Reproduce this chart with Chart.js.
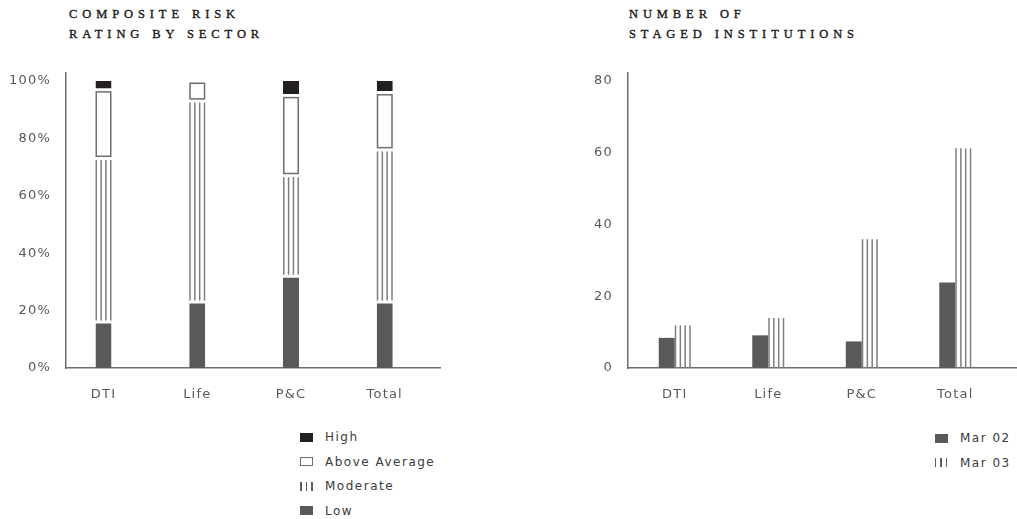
<!DOCTYPE html>
<html>
<head>
<meta charset="utf-8">
<script src="https://cdn.jsdelivr.net/npm/chart.js@4"></script>
<style>
  html, body { margin: 0; padding: 0; background: #fff; }
  body { width: 1017px; height: 519px; position: relative; overflow: hidden; font-family: "DejaVu Sans", sans-serif; }
  .title { position: absolute; font-family: "Liberation Serif", serif; font-size: 12.5px; line-height: 20px; letter-spacing: 4.9px; color: #1a1718; -webkit-text-stroke: 0.35px #1a1718; white-space: nowrap; }
  canvas { position: absolute; top: 0; }
  .legend { position: absolute; font-size: 12px; letter-spacing: 1.5px; color: #3a3a3a; white-space: nowrap; }
  .legend .row { display: flex; align-items: center; height: 24.5px; }
  .mk { width: 13px; height: 9px; margin-right: 12px; box-sizing: border-box; flex: none; }
  .mk.solid { background: var(--c); }
  .mk.outline { border: 1.5px solid #6d6e71; background: #fff; }
  .mk.stripes { background: repeating-linear-gradient(90deg, #5e5e5e 0 1.5px, transparent 1.5px 5.5px); }
</style>
</head>
<body>
<div class="title" style="left:69px; top:4px;">COMPOSITE RISK<br>RATING BY SECTOR</div>
<div class="title" style="left:629px; top:4px;">NUMBER OF<br>STAGED INSTITUTIONS</div>

<canvas id="riskChart" width="441" height="418" style="left:0;"></canvas>
<canvas id="stagedChart" width="457" height="418" style="left:560px;"></canvas>

<div class="legend" id="riskLegend" style="left:300px; top:425px;"></div>
<div class="legend" id="stagedLegend" style="left:935px; top:426px;"></div>

<script>
// ---- data ----
const sectors = ['DTI', 'Life', 'P&C', 'Total'];

// composite risk rating, share of institutions (%)
const riskLow = [16, 23, 32, 23];
const riskModerate = [57, 70, 35, 53];
const riskAboveAverage = [24, 7, 28, 20];
const riskHigh = [3, 0, 5, 4];
const riskTicks = [0, 20, 40, 60, 80, 100];

// number of staged institutions
const stagedMar02 = [8.4, 9.1, 7.4, 23.8];
const stagedMar03 = [11.9, 13.9, 35.9, 61.2];
const stagedTicks = [0, 20, 40, 60, 80];

// ---- styling ----
const INK = '#231f20';
const DARK = '#58595b';
const RULE = '#6d6e71';
const STRIPE = '#7d7e81';
const LABEL = '#58595b';
const tickFont = { family: '"DejaVu Sans", sans-serif', size: 13 };

const points = vals => vals.map((v, i) => ({ x: i, y: v }));

// outlined boxes and vertical rulings, painted inside each bar's own rectangle
const barFills = {
  id: 'barFills',
  afterDatasetsDraw(chart) {
    const ctx = chart.ctx;
    chart.data.datasets.forEach((ds, di) => {
      if (!ds.fillKind || !chart.isDatasetVisible(di)) return;
      const meta = chart.getDatasetMeta(di);
      const insetTop = ds.insetTop || 0;
      const insetBottom = ds.insetBottom || 0;
      meta.data.forEach(bar => {
        const { x, y, base, width } = bar.getProps(['x', 'y', 'base', 'width'], true);
        const left = x - width / 2;
        const top = Math.min(y, base) + insetTop;
        const bottom = Math.max(y, base) - insetBottom;
        if (bottom - top < 1) return;
        ctx.save();
        if (ds.fillKind === 'outline') {
          ctx.fillStyle = '#fff';
          ctx.fillRect(left, top, width, bottom - top);
          ctx.lineWidth = 1.5;
          ctx.strokeStyle = RULE;
          ctx.strokeRect(left + 0.75, top + 0.75, width - 1.5, bottom - top - 1.5);
        } else {
          ctx.lineWidth = 1.5;
          ctx.strokeStyle = STRIPE;
          for (let k = 0; k < 4; k++) {
            const lx = left + 0.75 + k * (width - 1.5) / 3;
            ctx.beginPath();
            ctx.moveTo(lx, top);
            ctx.lineTo(lx, bottom);
            ctx.stroke();
          }
        }
        ctx.restore();
      });
    });
  }
};

// wider tracking for the axis labels
const tracking = {
  id: 'tracking',
  beforeLayout(chart) { chart.ctx.letterSpacing = '1.2px'; },
  beforeDraw(chart) { chart.ctx.letterSpacing = '1.2px'; }
};

function categoryAxis(min, max, stacked) {
  return {
    type: 'linear', min, max, stacked, offset: false,
    grid: { display: false, drawTicks: false },
    border: { color: RULE, width: 1.5 },
    ticks: {
      padding: 19, color: LABEL, font: tickFont, maxRotation: 0, autoSkip: false,
      callback: v => sectors[v] ?? ''
    },
    afterBuildTicks: s => { s.ticks = sectors.map((_, i) => ({ value: i })); },
    afterFit: s => { s.height = 50; }
  };
}

function valueAxis(ticks, max, fmt, width, stacked) {
  return {
    min: 0, max, stacked,
    grid: { display: false, drawTicks: false },
    border: { color: RULE, width: 1.5 },
    ticks: { padding: 15, color: LABEL, font: tickFont, callback: fmt },
    afterBuildTicks: s => { s.ticks = ticks.map(v => ({ value: v })); },
    afterFit: s => { s.width = width; }
  };
}

const common = {
  responsive: false,
  animation: false,
  events: [],
  plugins: { legend: { display: false }, tooltip: { enabled: false } },
  layout: { padding: { top: 73, right: 0, bottom: 0, left: 0 } }
};

const riskChart = new Chart(document.getElementById('riskChart'), {
  type: 'bar',
  data: {
    datasets: [
      { label: 'Low', data: points(riskLow), backgroundColor: DARK,
        borderColor: '#fff', borderWidth: { top: 1.5, right: 0, bottom: 0, left: 0 },
        borderSkipped: false, legendMark: 'solid' },
      { label: 'Moderate', data: points(riskModerate), backgroundColor: 'rgba(0,0,0,0)', borderWidth: 0,
        fillKind: 'stripes', insetTop: 1.5, insetBottom: 1.5, legendMark: 'stripes' },
      { label: 'Above Average', data: points(riskAboveAverage), backgroundColor: 'rgba(0,0,0,0)', borderWidth: 0,
        fillKind: 'outline', insetTop: 1.5, insetBottom: 1.5, legendMark: 'outline' },
      { label: 'High', data: points(riskHigh), backgroundColor: INK,
        borderColor: '#fff', borderWidth: { top: 0, right: 0, bottom: 1.5, left: 0 },
        borderSkipped: false, legendMark: 'solid' }
    ]
  },
  options: {
    ...common,
    datasets: { bar: { barThickness: 16, inflateAmount: 0 } },
    scales: {
      x: categoryAxis(-0.4, 3.6, true),
      y: valueAxis(riskTicks, 102.8, v => v + '%', 66, true)
    }
  },
  plugins: [barFills, tracking]
});

const stagedChart = new Chart(document.getElementById('stagedChart'), {
  type: 'bar',
  data: {
    datasets: [
      { label: 'Mar 02', data: points(stagedMar02), backgroundColor: DARK, borderWidth: 0, legendMark: 'solid' },
      { label: 'Mar 03', data: points(stagedMar03), backgroundColor: 'rgba(0,0,0,0)', borderWidth: 0,
        fillKind: 'stripes', legendMark: 'stripes' }
    ]
  },
  options: {
    ...common,
    datasets: { bar: { barThickness: 16, inflateAmount: 0 } },
    scales: {
      x: categoryAxis(-0.5, 3.66, false),
      y: valueAxis(stagedTicks, 82.2, v => String(v), 68, false)
    }
  },
  plugins: [barFills, tracking]
});

// legends list the series top-down, as they sit in the stack
function buildLegend(el, chart, reverse) {
  const sets = chart.data.datasets.slice();
  if (reverse) sets.reverse();
  sets.forEach(ds => {
    const row = document.createElement('div');
    row.className = 'row';
    const mk = document.createElement('span');
    mk.className = 'mk ' + ds.legendMark;
    if (ds.legendMark === 'solid') mk.style.setProperty('--c', ds.backgroundColor);
    const tx = document.createElement('span');
    tx.textContent = ds.label;
    row.appendChild(mk);
    row.appendChild(tx);
    el.appendChild(row);
  });
}
buildLegend(document.getElementById('riskLegend'), riskChart, true);
buildLegend(document.getElementById('stagedLegend'), stagedChart, false);
</script>
</body>
</html>
